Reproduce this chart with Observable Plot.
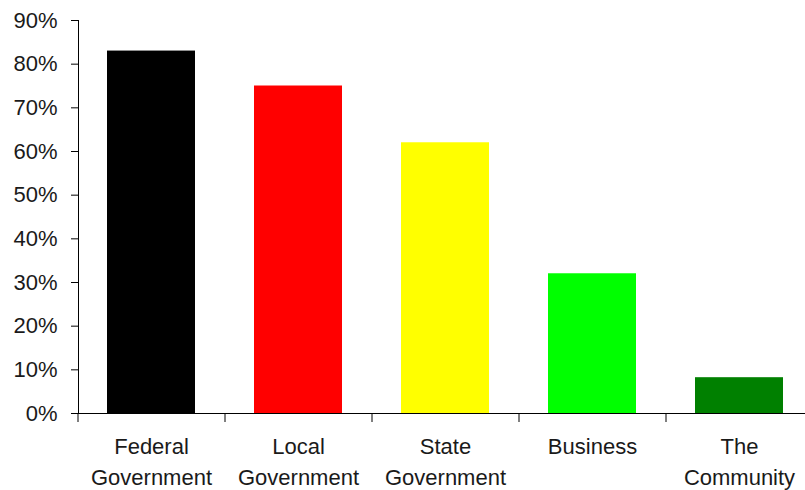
<!DOCTYPE html>
<html>
<head>
<meta charset="utf-8">
<script src="https://cdn.jsdelivr.net/npm/d3@7"></script>
<script src="https://cdn.jsdelivr.net/npm/@observablehq/plot@0.6"></script>
<style>
  body { margin: 0; background: #fff; overflow: hidden; }
  svg { font-family: "Liberation Sans", Arial, sans-serif; }
</style>
</head>
<body>
<div id="chart"></div>
<script>
const categories = ["Federal\nGovernment", "Local\nGovernment", "State\nGovernment", "Business", "The\nCommunity"];
const values = [83, 75, 62, 32, 8.2];
const colors = ["#000000", "#ff0000", "#ffff00", "#00ff00", "#008000"];
const yTicks = [0, 10, 20, 30, 40, 50, 60, 70, 80, 90];

const data = categories.map((c, i) => ({category: c, value: values[i]}));

const width = 805, height = 490;
const marginLeft = 78, marginRight = -8, marginTop = 20, marginBottom = 77;
const paddingInner = 0.4, paddingOuter = 0.2;
const step = (width - marginLeft - marginRight) / (categories.length - paddingInner + 2 * paddingOuter);

const plot = Plot.plot({
  width, height, marginLeft, marginRight, marginTop, marginBottom,
  style: {fontFamily: '"Liberation Sans", Arial, sans-serif', fontSize: "22px", color: "#1a1a1a", background: "#fff"},
  x: {domain: categories, paddingInner, paddingOuter, label: null},
  y: {domain: [0, 90], label: null},
  color: {domain: categories, range: colors},
  marks: [
    Plot.barY(data, {x: "category", y: "value", fill: "category"}),
    Plot.frame({anchor: "left", stroke: "#000", strokeOpacity: 1}),
    Plot.ruleY([0], {stroke: "#000"}),
    Plot.ruleX(categories, {x: d => d, y1: 0, y2: 0, insetBottom: -9, dx: -step / 2, stroke: "#000"}),
    Plot.axisY({ticks: yTicks, tickFormat: d => d + "%", tickSize: 7, tickPadding: 14, fontSize: 22, label: null, stroke: "#000"}),
    Plot.axisX({tickSize: 0, tickPadding: 19, fontSize: 22, lineHeight: 1.4, label: null})
  ]
});
document.getElementById("chart").appendChild(plot);
</script>
</body>
</html>
